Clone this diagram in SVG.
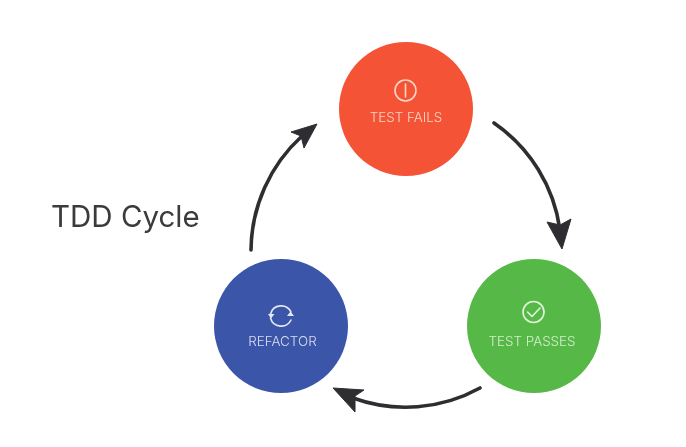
<svg xmlns="http://www.w3.org/2000/svg" width="686" height="447" viewBox="0 0 686 447">
<style>
.lbl{font-family:"Inter","Liberation Sans",sans-serif;font-size:13.400px;font-weight:300;text-anchor:middle}
.ic{fill:none;stroke-width:1.6;stroke-linecap:round;stroke-linejoin:round}
.arc{fill:none;stroke:#2f2f31;stroke-width:3.600;stroke-linecap:round}
.hd{fill:#2f2f31;stroke:#2f2f31;stroke-width:1;stroke-linejoin:round}
</style>
<defs><filter id="soft" x="-5%" y="-5%" width="110%" height="110%"><feGaussianBlur stdDeviation="0.5"/></filter></defs>
<rect width="686" height="447" fill="#fff"/>
<g filter="url(#soft)">
<text id="title" x="51" y="227" font-family="Inter,'Liberation Sans',sans-serif" font-size="29.500" font-weight="400" fill="#3a3a3c">TDD Cycle</text>
<g id="connectors">
<path class="arc" d="M494 123A156 156 0 0 1 560 230"/>
<path class="hd" d="M562 249L547 222L560 225L571 219Z"/>
<path class="arc" d="M480 388A154 154 0 0 1 353 398"/>
<path class="hd" d="M333 388L364 390L355 396L355 412Z"/>
<path class="arc" d="M251 250A156 156 0 0 1 302 136"/>
<path class="hd" d="M317 124L291 132L301 136L304 148Z"/>
</g>
<g id="test-fails">
<circle cx="406" cy="109" r="67" fill="#f45336"/>
<circle class="ic" cx="405.500" cy="90.500" r="10.500" stroke="#fbd5c6"/>
<path class="ic" d="M405.500 84V97" stroke="#fbd5c6"/>
<text class="lbl" x="406" y="122" fill="#fbd5c6">TEST FAILS</text>
</g>
<g id="test-passes">
<circle cx="534" cy="326" r="67" fill="#57b947"/>
<circle class="ic" cx="533.500" cy="312" r="10.500" stroke="#e3f4dc"/>
<path class="ic" d="M527.500 312L532 316.500L540 308" stroke="#e3f4dc"/>
<text class="lbl" x="532" y="346" fill="#d5eecd">TEST PASSES</text>
</g>
<g id="refactor">
<circle cx="281" cy="326" r="67" fill="#3a55a8"/>
<path class="ic" d="M270.500 314A11 11 0 0 1 291 312M291 320A11 11 0 0 1 270.500 318" stroke="#e3e8f5"/>
<path d="M268 314H274.500L271 318.500ZM287 316H294L290.500 311.500Z" fill="#e3e8f5"/>
<text class="lbl" x="282.500" y="346" fill="#d8def0">REFACTOR</text>
</g>
</g>
</svg>
